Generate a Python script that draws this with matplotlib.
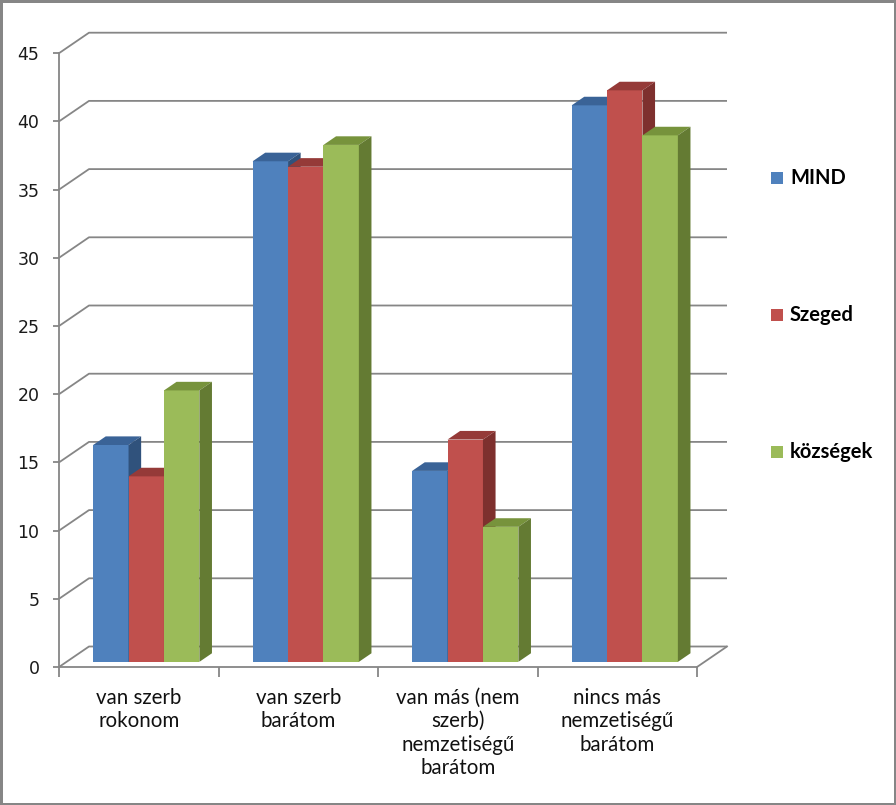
import matplotlib
matplotlib.use('Agg')
import matplotlib.pyplot as plt
from matplotlib.patches import Polygon, Rectangle
import matplotlib.transforms as mtransforms
import numpy as np

# ---------------- data ----------------
categories = ["van szerb\nrokonom", "van szerb\nbarátom",
              "van más (nem\nszerb)\nnemzetiségű\nbarátom",
              "nincs más\nnemzetiségű\nbarátom"]
series_names = ["MIND", "Szeged", "községek"]
mind = [15.9, 36.7, 14.0, 40.8]
szeged = [13.6, 36.3, 16.3, 41.9]
kozsegek = [19.9, 37.9, 9.9, 38.6]
y_ticks = [0, 5, 10, 15, 20, 25, 30, 35, 40, 45]

series_values = [mind, szeged, kozsegek]
front_colors = ['#4F81BD', '#C0504D', '#9BBB59']
top_colors = ['#3A6397', '#953A38', '#77933C']
side_colors = ['#30527C', '#7E302E', '#647B33']
grid_color = '#868686'

# ---------------- figure ----------------
W, H = 896, 805
fig = plt.figure(figsize=(W / 100, H / 100), dpi=100)
px_per_cat = 159.5
px_per_unit = 13.64
ax_left, ax_bottom_px = 59, 667
xmax, ymax = 4.25, 46.6
ax = fig.add_axes([ax_left / W, (H - ax_bottom_px) / H,
                   xmax * px_per_cat / W, ymax * px_per_unit / H])
ax.set_xlim(0, xmax)
ax.set_ylim(0, ymax)
ax.patch.set_visible(False)

# depth vector (full floor depth) in data units
DX = 30 / px_per_cat
DY = 20.5 / px_per_unit
f0, fd = 0.25, 0.42          # bar front position / bar depth (fraction of floor depth)
ncat = len(categories)
bw = 0.222

# back wall gridlines + left wall diagonals
for v in y_ticks:
    ax.plot([0, DX, ncat + DX], [v, v + DY, v + DY], color=grid_color,
            lw=1.3, zorder=1, solid_capstyle='butt', clip_on=False)
# floor right diagonal
ax.plot([ncat, ncat + DX], [0, DY], color=grid_color, lw=1.3, zorder=1, clip_on=False)

# bars
centers = np.arange(ncat) + 0.5
ddx, ddy = fd * DX, fd * DY
for i, vals in enumerate(series_values):
    z = 3 + i * 0.1
    xs = centers + (i - 1) * bw + f0 * DX
    base = f0 * DY
    bars = ax.bar(xs, vals, width=bw, bottom=base, color=front_colors[i],
                  zorder=z, linewidth=0)
    for rect in bars:
        x0 = rect.get_x()
        x1 = x0 + rect.get_width()
        y0 = rect.get_y()
        y1 = y0 + rect.get_height()
        top = Polygon([(x0, y1), (x1, y1), (x1 + ddx, y1 + ddy), (x0 + ddx, y1 + ddy)],
                      closed=True, facecolor=top_colors[i], edgecolor='none', zorder=z)
        side = Polygon([(x1, y0), (x1, y1), (x1 + ddx, y1 + ddy), (x1 + ddx, y0 + ddy)],
                       closed=True, facecolor=side_colors[i], edgecolor='none', zorder=z)
        ax.add_patch(top)
        ax.add_patch(side)

# axes styling
for s in ['top', 'right']:
    ax.spines[s].set_visible(False)
ax.spines['left'].set_bounds(0, 45)
ax.spines['bottom'].set_bounds(0, ncat)
for s in ['left', 'bottom']:
    ax.spines[s].set_color(grid_color)
    ax.spines[s].set_linewidth(1.3)
    ax.spines[s].set_zorder(5)
ax.set_yticks(y_ticks)
ax.set_yticklabels([str(t) for t in y_ticks], fontsize=12.5, family='DejaVu Sans', color='#1a1a1a')
ax.tick_params(axis='y', direction='out', length=4.5, width=1.3, color=grid_color, pad=9.5)
ax.set_xticks(np.arange(ncat + 1))
ax.set_xticklabels([])
ax.tick_params(axis='x', direction='out', length=7, width=1.3, color=grid_color)

# category labels
off = mtransforms.offset_copy(ax.get_xaxis_transform(), fig=fig, x=0, y=-15, units='points')
for c, lab in zip(centers, categories):
    ax.text(c, 0, lab, transform=off, ha='center', va='top', fontsize=14.8,
            family='Lato', linespacing=1.22, color='#111111', multialignment='center')

# legend
leg_y0, leg_step = 178, 137
for i, name in enumerate(series_names):
    yc = leg_y0 + i * leg_step
    fig.add_artist(Rectangle((771 / W, 1 - (yc + 6) / H), 12 / W, 12 / H,
                             transform=fig.transFigure, facecolor=front_colors[i],
                             edgecolor='none'))
    fig.text(790 / W, 1 - yc / H, name, fontsize=14.5, family='Lato', weight='bold',
             va='center', ha='left', color='#000000')

# figure border
fig.add_artist(Rectangle((0, 0), 1, 1, transform=fig.transFigure, fill=False,
                         edgecolor='#868686', linewidth=3.6))

fig.savefig('out.png', dpi=100)
